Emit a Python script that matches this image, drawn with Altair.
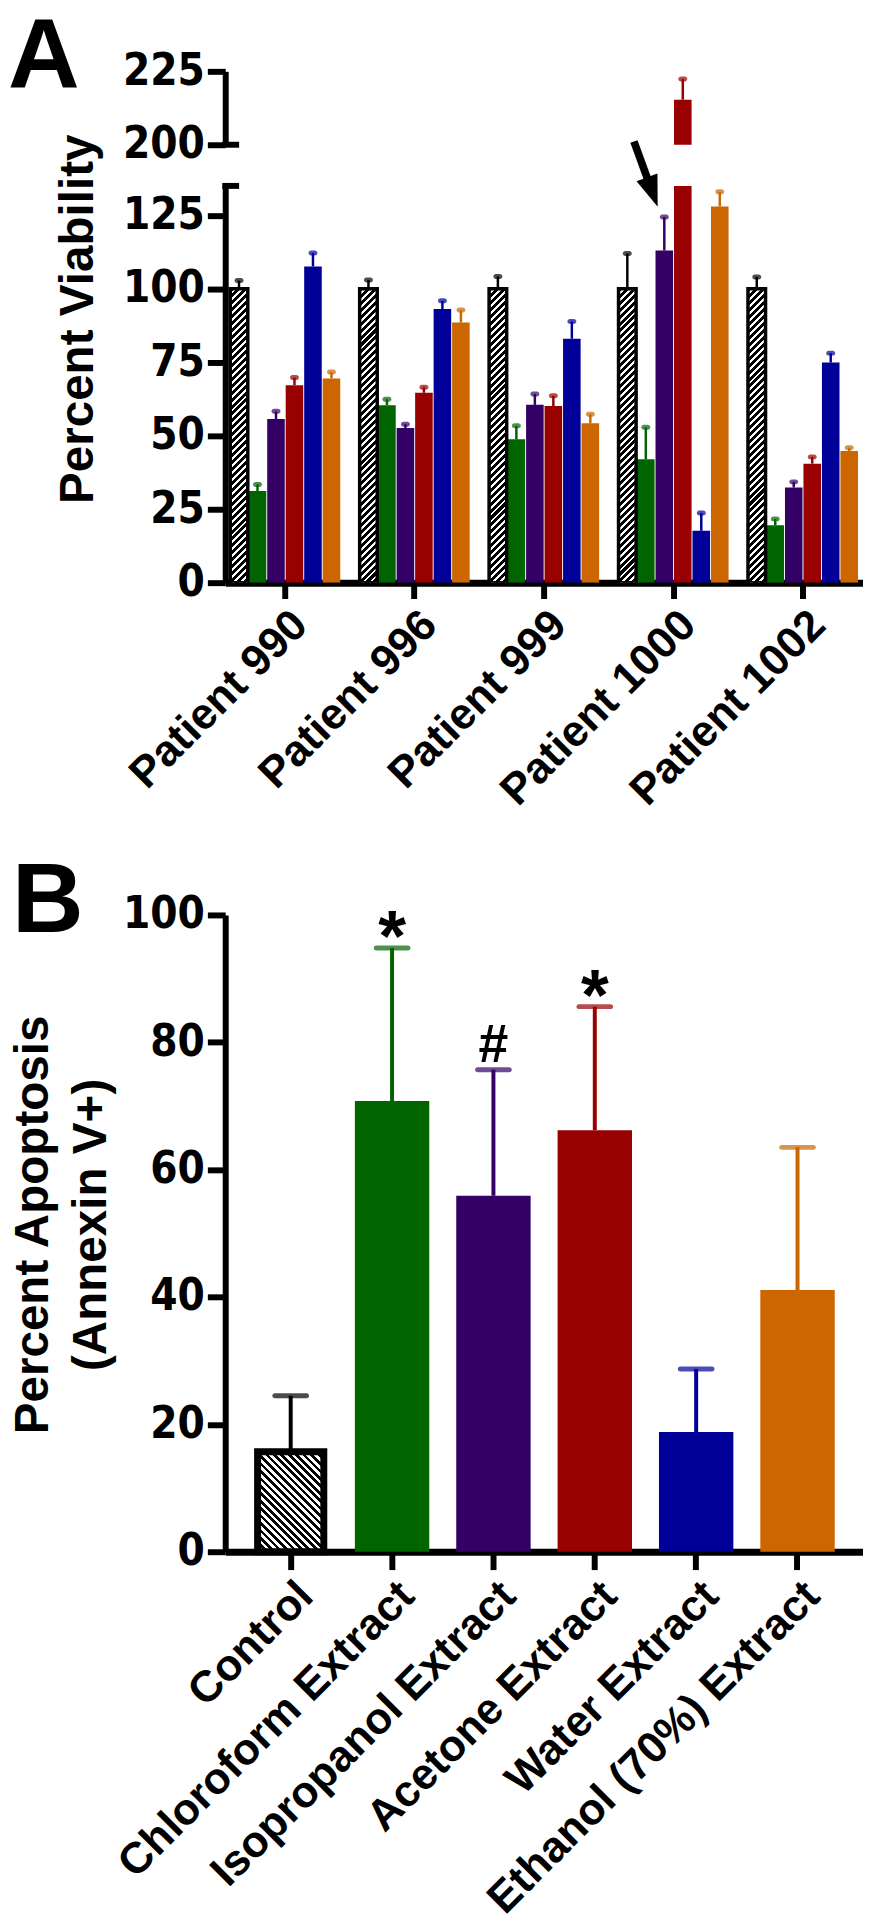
import altair as alt
import pandas as pd

# ---------------- data ----------------
patients = ["Patient 990", "Patient 996", "Patient 999", "Patient 1000", "Patient 1002"]
treatments = ["Control", "Chloroform Extract", "Isopropanol Extract",
              "Acetone Extract", "Water Extract", "Ethanol (70%) Extract"]
bar_colors = ["#000000", "#006400", "#330066", "#990000", "#000099", "#cc6600"]

# Panel A: percent viability (mean) per patient, one list per treatment
viability_control = [100.0, 100.0, 100.0, 100.0, 100.0]
viability_chloroform = [31.2, 60.4, 48.8, 42.0, 19.5]
viability_isopropanol = [55.7, 52.6, 60.5, 113.0, 32.4]
viability_acetone = [67.2, 64.6, 60.1, 215.3, 40.5]
viability_water = [107.6, 93.1, 83.0, 17.7, 74.9]
viability_ethanol = [69.5, 88.5, 54.2, 128.0, 44.8]

# Panel A: error (upper whisker length)
error_control = [2.8, 3.0, 4.2, 12.0, 4.0]
error_chloroform = [2.2, 2.0, 4.6, 10.9, 2.2]
error_isopropanol = [2.6, 1.3, 3.7, 11.4, 1.9]
error_acetone = [2.6, 1.9, 3.5, 7.1, 2.3]
error_water = [4.6, 2.8, 5.9, 6.0, 3.2]
error_ethanol = [2.2, 4.3, 3.1, 5.0, 1.1]

# Panel B: percent apoptosis
apoptosis_mean = [15.7, 70.8, 55.9, 66.2, 18.8, 41.1]
apoptosis_error = [8.8, 24.0, 19.8, 19.4, 9.9, 22.4]
apoptosis_marks = ["", "*", "#", "*", "", ""]

# Arrow annotation in panel A
arrow_patient = ["Patient 1000"]
arrow_treatment = ["Chloroform Extract"]
arrow_value = [139.0]

lower_ticks = [0, 25, 50, 75, 100, 125]
upper_ticks = [200, 225]
apoptosis_ticks = [0, 20, 40, 60, 80, 100]
LOW_MAX = 135
UP_MIN, UP_MAX = 200, 225

# ---------------- layout constants ----------------
W = 643
H_UP = 74
H_LOW = 400
H_B = 642
SPACE = 41.5
SPACER_H = 252
FONT = "Liberation Sans"
NUM_FONT = "'Liberation Sans Narrow', 'Arial Narrow', 'DejaVu Sans Condensed', 'Liberation Sans', sans-serif"
NUM_SIZE = 44

# ---------------- tables ----------------
means = [viability_control, viability_chloroform, viability_isopropanol,
         viability_acetone, viability_water, viability_ethanol]
errs = [error_control, error_chloroform, error_isopropanol,
        error_acetone, error_water, error_ethanol]
rows = []
for ti, t in enumerate(treatments):
    for pi, p in enumerate(patients):
        rows.append({"patient": p, "treatment": t, "value": means[ti][pi],
                     "upper": means[ti][pi] + errs[ti][pi]})
df_a = pd.DataFrame(rows)

df_b = pd.DataFrame({"treatment": treatments, "value": apoptosis_mean,
                     "upper": [m + e for m, e in zip(apoptosis_mean, apoptosis_error)],
                     "mark": apoptosis_marks})

df_arrow = pd.DataFrame({"patient": arrow_patient, "treatment": arrow_treatment,
                         "value": arrow_value})


# ---------------- hatch fills (gradient stripes) ----------------
def hatch(w, h, period_px, black_frac, direction):
    r = h / w
    k = (w + h) / (w * (1 + r * r))
    if direction == "/":
        x1, y1, x2, y2 = 0, 0, k, k * r
    else:
        x1, y1, x2, y2 = 0, 1, k, 1 - k * r
    dt = period_px / (w + h)
    stops = []
    t = 0.0
    while t < 1:
        tb = min(t + black_frac * dt, 1.0)
        te = min(t + dt, 1.0)
        stops += [alt.GradientStop(color="black", offset=round(t, 5)),
                  alt.GradientStop(color="black", offset=round(tb, 5)),
                  alt.GradientStop(color="white", offset=round(tb, 5)),
                  alt.GradientStop(color="white", offset=round(te, 5))]
        t += dt
    return alt.LinearGradient(gradient="linear", stops=stops,
                              x1=x1, y1=y1, x2=x2, y2=y2)


bw_a = (W / (4.85 + 2 * 0.0386)) * 0.85 / 5.95 * 0.95
hatch_a = hatch(bw_a, 100 * H_LOW / LOW_MAX, 7.0, 0.58, "/")
hatch_b = hatch(75 * 0.89, 15.7 * H_B / 100, 7.5, 0.5, "\\")

ARROW = "M-0.11,1L0.11,1L0.11,-0.1L0.32,-0.1L0,-1L-0.32,-0.1L-0.11,-0.1Z"

color_enc = alt.Color("treatment:N", scale=alt.Scale(domain=treatments, range=bar_colors),
                      legend=None)

# ---------------- panel A ----------------
xa_scale = alt.Scale(domain=patients, paddingInner=0.15, paddingOuter=0.0386)
xo_scale = alt.Scale(domain=treatments, paddingInner=0.05, paddingOuter=0)

axis_xa = alt.Axis(title=None, labelAngle=-45, labelAlign="right", labelBaseline="top",
                   labelFontSize=44, labelFontWeight="bold", labelPadding=4,
                   labelLimit=800, tickSize=16, tickWidth=6, domainWidth=7)


def ylow(field):
    return alt.Y(field, type="quantitative",
                 scale=alt.Scale(domain=[0, LOW_MAX], nice=False, zero=False),
                 axis=alt.Axis(values=lower_ticks, title="Percent Viability",
                               titleFontSize=48, titleFontWeight="bold",
                               titleAngle=270, titleAlign="center",
                               titleBaseline="alphabetic", titleX=-134, titleY=134,
                               labelFont=NUM_FONT, labelFontSize=NUM_SIZE,
                               labelFontWeight="bold",
                               labelPadding=3, tickSize=18, tickWidth=6,
                               domainWidth=6))


def yup(field):
    return alt.Y(field, type="quantitative",
                 scale=alt.Scale(domain=[UP_MIN, UP_MAX], nice=False, zero=False),
                 axis=alt.Axis(values=upper_ticks, title=None,
                               labelFont=NUM_FONT, labelFontSize=NUM_SIZE,
                               labelFontWeight="bold",
                               labelPadding=3, tickSize=18, tickWidth=6,
                               domainWidth=6))


def panel_a_layers(yfn, xaxis, filt=None):
    base = alt.Chart(df_a).encode(
        x=alt.X("patient:N", scale=xa_scale, axis=xaxis),
        xOffset=alt.XOffset("treatment:N", scale=xo_scale),
    )
    if filt:
        base = base.transform_filter(filt)
    colored = base.transform_filter("datum.treatment != 'Control'").mark_bar(
        clip=True).encode(y=yfn("value"), color=color_enc)
    ctrl = base.transform_filter("datum.treatment == 'Control'").mark_bar(
        clip=True, fill=hatch_a, stroke="black", strokeWidth=3.5).encode(y=yfn("value"))
    whisk = base.mark_rule(clip=True, strokeWidth=2.5).encode(
        y=yfn("value"), y2="upper:Q", color=color_enc)
    caps = base.mark_tick(clip=True, size=9, thickness=5, cornerRadius=2.5).encode(
        y=yfn("upper"), color=color_enc)
    return [colored, ctrl, whisk, caps]


brk_low = alt.Chart(pd.DataFrame({"level": [LOW_MAX]})).mark_rule(
    strokeWidth=6, color="black").encode(x=alt.value(-3), x2=alt.value(14), y=ylow("level"))
brk_up = alt.Chart(pd.DataFrame({"level": [UP_MIN]})).mark_rule(
    strokeWidth=6, color="black").encode(x=alt.value(-3), x2=alt.value(14), y=yup("level"))

arrow = alt.Chart(df_arrow).mark_point(
    shape=ARROW, filled=True, size=4900, angle=160, color="black", opacity=1).encode(
    x=alt.X("patient:N", scale=xa_scale, axis=axis_xa),
    xOffset=alt.XOffset("treatment:N", scale=xo_scale),
    y=ylow("value"))

letter_a = alt.Chart(pd.DataFrame({"label": ["A"]})).mark_text(
    fontSize=100, fontWeight="bold", align="left", baseline="alphabetic",
    color="black").encode(text="label:N", x=alt.value(-219), y=alt.value(16))

upper = alt.layer(*panel_a_layers(yup, None, "datum.value > %d" % LOW_MAX),
                  brk_up, letter_a).properties(width=W, height=H_UP)
lower = alt.layer(*panel_a_layers(ylow, axis_xa), brk_low, arrow).properties(
    width=W, height=H_LOW)

spacer = alt.Chart(pd.DataFrame({"s": [0]})).mark_point(opacity=0).encode(
    x=alt.X("s:Q", axis=None), y=alt.Y("s:Q", axis=None)).properties(
    width=W, height=SPACER_H)

# ---------------- panel B ----------------
xb = alt.X("treatment:N", scale=alt.Scale(domain=treatments, paddingInner=0.266,
                                          paddingOuter=0.279),
           axis=alt.Axis(title=None, labelAngle=-45, labelAlign="right",
                         labelBaseline="top", labelFontSize=44, labelFontWeight="bold",
                         labelPadding=4, labelLimit=800, tickSize=18, tickWidth=6,
                         domainWidth=7))


def yb(field):
    return alt.Y(field, type="quantitative",
                 scale=alt.Scale(domain=[0, 100], nice=False),
                 axis=alt.Axis(values=apoptosis_ticks,
                               title=["Percent Apoptosis", "(Annexin V+)"],
                               titleFontSize=48, titleFontWeight="bold",
                               titleAngle=270, titleAlign="center",
                               titleBaseline="alphabetic", titleLineHeight=58,
                               titleX=-179, titleY=312,
                               labelFont=NUM_FONT, labelFontSize=NUM_SIZE,
                               labelFontWeight="bold",
                               labelPadding=3, tickSize=18, tickWidth=6,
                               domainWidth=6))


base_b = alt.Chart(df_b).encode(x=xb)
b_colored = base_b.transform_filter("datum.treatment != 'Control'").mark_bar().encode(
    y=yb("value"), color=color_enc)
b_ctrl = base_b.transform_filter("datum.treatment == 'Control'").mark_bar(
    fill=hatch_b, stroke="black", strokeWidth=7,
    width=alt.RelativeBandSize(0.89)).encode(y=yb("value"))
b_whisk = base_b.mark_rule(strokeWidth=4).encode(y=yb("value"), y2="upper:Q",
                                                 color=color_enc)
b_caps = base_b.mark_tick(size=37, thickness=5, cornerRadius=2.5).encode(
    y=yb("upper"), color=color_enc)
b_star = base_b.transform_filter("datum.mark == '*'").mark_text(
    fontSize=72, fontWeight="bold", baseline="alphabetic", dy=13, color="black").encode(
    y=yb("upper"), text="mark:N")
b_hash = base_b.transform_filter("datum.mark == '#'").mark_text(
    fontSize=54, fontWeight="bold", baseline="alphabetic", dy=-8, color="black").encode(
    y=yb("upper"), text="mark:N")
letter_b = alt.Chart(pd.DataFrame({"label": ["B"]})).mark_text(
    fontSize=100, fontWeight="bold", align="left", baseline="alphabetic",
    color="black").encode(text="label:N", x=alt.value(-215), y=alt.value(17))

panel_b = alt.layer(b_colored, b_ctrl, b_whisk, b_caps, b_star, b_hash,
                    letter_b).properties(width=W, height=H_B)

chart = alt.vconcat(upper, lower, spacer, panel_b, spacing=SPACE, bounds="flush").properties(
    padding={"top": -8, "left": 0, "right": 0, "bottom": 0}).configure(
    font=FONT).configure_view(strokeWidth=0).configure_axis(
    grid=False, domainColor="black", tickColor="black", labelColor="black",
    titleColor="black")

chart.save("out.html", embed_options={"renderer": "svg", "actions": False})
